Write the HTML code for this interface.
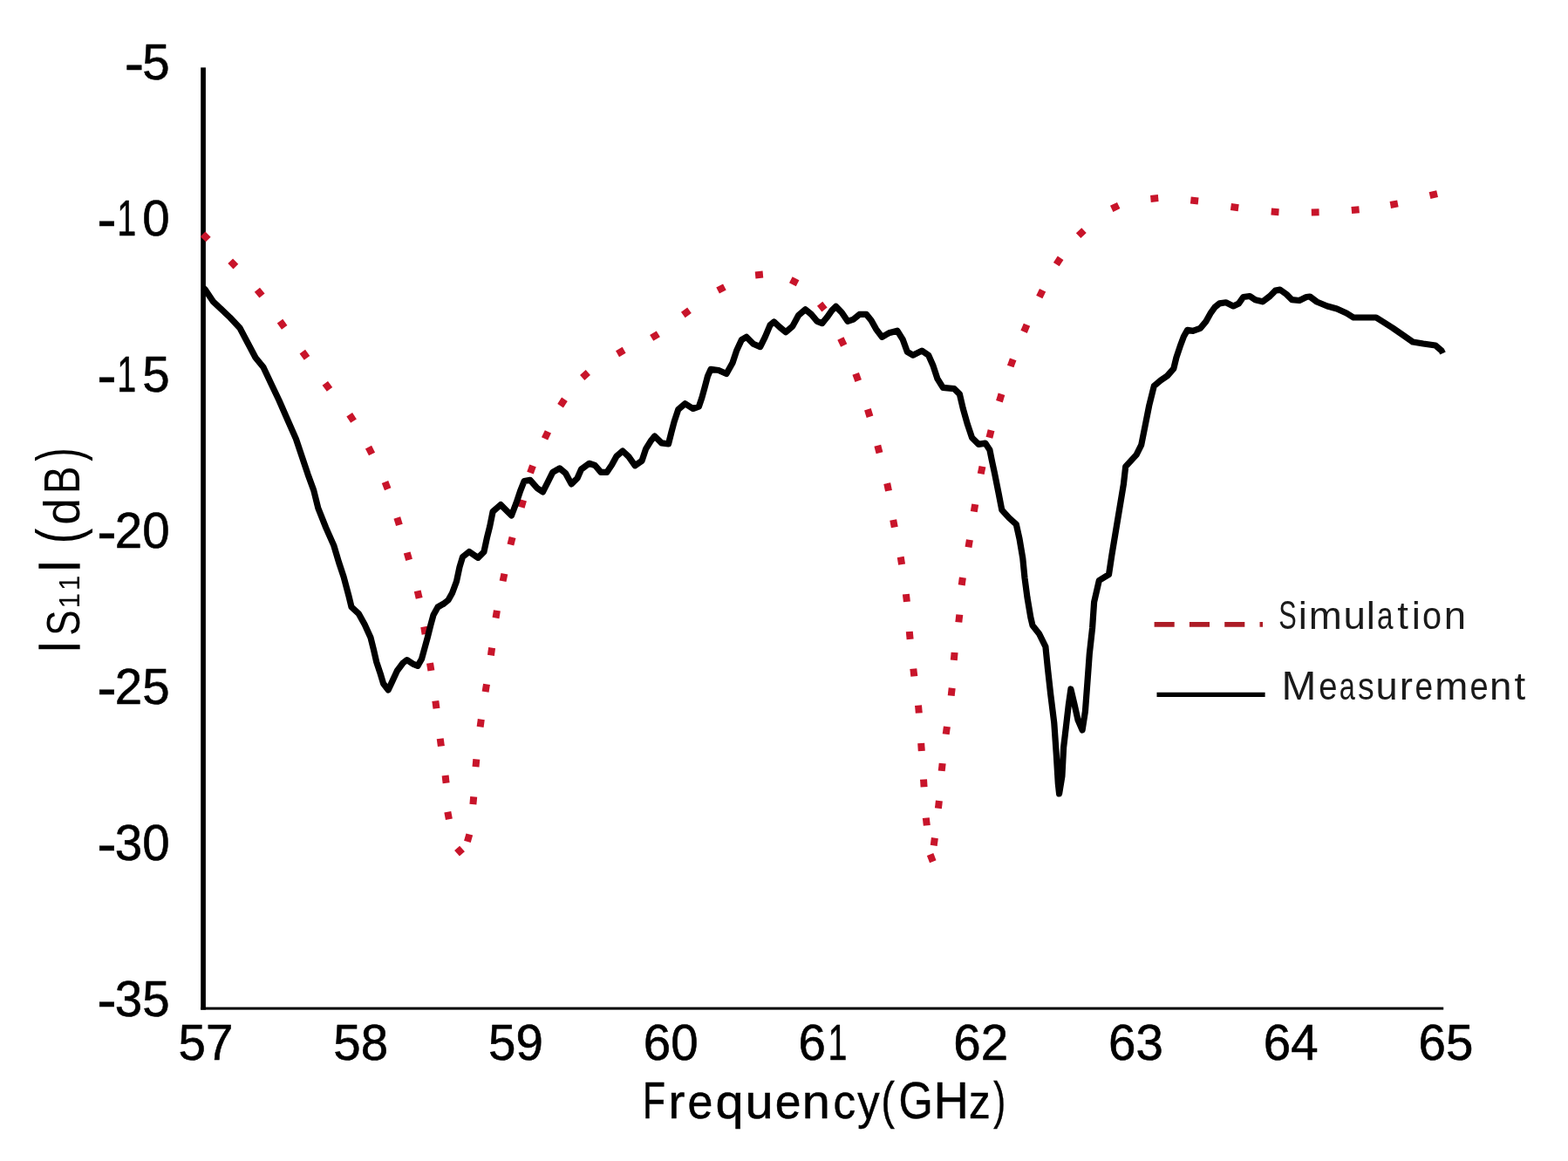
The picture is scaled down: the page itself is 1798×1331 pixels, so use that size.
<!DOCTYPE html>
<html><head><meta charset="utf-8"><title>S11 vs Frequency</title>
<style>
html,body{margin:0;padding:0;background:#fff;}
body{width:1798px;height:1331px;overflow:hidden;}
svg{display:block;}
</style></head>
<body>
<svg width="1798" height="1331" viewBox="0 0 1798 1331">
<rect width="1798" height="1331" fill="#fff"/>
<g fill="#000">
<rect x="230.2" y="77.4" width="5.7" height="1080.2"/>
<rect x="230.2" y="1154.6" width="1425" height="3"/>
</g>
<text font-family="'Liberation Sans', sans-serif" fill="#000" stroke="#000" stroke-width="0.6"><tspan x="142.69" y="94.80" font-size="64" textLength="22.38" lengthAdjust="spacingAndGlyphs">-</tspan><tspan x="163.28" y="91.00" font-size="56.5" textLength="31.42" lengthAdjust="spacingAndGlyphs">5</tspan></text>
<text font-family="'Liberation Sans', sans-serif" fill="#000" stroke="#000" stroke-width="0.6"><tspan x="111.27" y="273.82" font-size="64" textLength="22.38" lengthAdjust="spacingAndGlyphs">-</tspan><tspan x="134.35" y="270.02" font-size="56.5" textLength="21.93" lengthAdjust="spacingAndGlyphs">1</tspan><tspan x="163.28" y="270.02" font-size="56.5" textLength="31.42" lengthAdjust="spacingAndGlyphs">0</tspan></text>
<text font-family="'Liberation Sans', sans-serif" fill="#000" stroke="#000" stroke-width="0.6"><tspan x="111.27" y="452.84" font-size="64" textLength="22.38" lengthAdjust="spacingAndGlyphs">-</tspan><tspan x="134.35" y="449.04" font-size="56.5" textLength="21.93" lengthAdjust="spacingAndGlyphs">1</tspan><tspan x="163.28" y="449.04" font-size="56.5" textLength="31.42" lengthAdjust="spacingAndGlyphs">5</tspan></text>
<text font-family="'Liberation Sans', sans-serif" fill="#000" stroke="#000" stroke-width="0.6"><tspan x="111.27" y="631.86" font-size="64" textLength="22.38" lengthAdjust="spacingAndGlyphs">-</tspan><tspan x="131.85" y="628.06" font-size="56.5" textLength="31.42" lengthAdjust="spacingAndGlyphs">2</tspan><tspan x="163.28" y="628.06" font-size="56.5" textLength="31.42" lengthAdjust="spacingAndGlyphs">0</tspan></text>
<text font-family="'Liberation Sans', sans-serif" fill="#000" stroke="#000" stroke-width="0.6"><tspan x="111.27" y="810.88" font-size="64" textLength="22.38" lengthAdjust="spacingAndGlyphs">-</tspan><tspan x="131.85" y="807.08" font-size="56.5" textLength="31.42" lengthAdjust="spacingAndGlyphs">2</tspan><tspan x="163.28" y="807.08" font-size="56.5" textLength="31.42" lengthAdjust="spacingAndGlyphs">5</tspan></text>
<text font-family="'Liberation Sans', sans-serif" fill="#000" stroke="#000" stroke-width="0.6"><tspan x="111.27" y="989.90" font-size="64" textLength="22.38" lengthAdjust="spacingAndGlyphs">-</tspan><tspan x="131.85" y="986.10" font-size="56.5" textLength="31.42" lengthAdjust="spacingAndGlyphs">3</tspan><tspan x="163.28" y="986.10" font-size="56.5" textLength="31.42" lengthAdjust="spacingAndGlyphs">0</tspan></text>
<text font-family="'Liberation Sans', sans-serif" fill="#000" stroke="#000" stroke-width="0.6"><tspan x="111.27" y="1168.92" font-size="64" textLength="22.38" lengthAdjust="spacingAndGlyphs">-</tspan><tspan x="131.85" y="1165.12" font-size="56.5" textLength="31.42" lengthAdjust="spacingAndGlyphs">3</tspan><tspan x="163.28" y="1165.12" font-size="56.5" textLength="31.42" lengthAdjust="spacingAndGlyphs">5</tspan></text>
<text font-family="'Liberation Sans', sans-serif" fill="#000" stroke="#000" stroke-width="0.6"><tspan x="204.58" y="1215.00" font-size="56.5" textLength="31.42" lengthAdjust="spacingAndGlyphs">5</tspan><tspan x="236.00" y="1215.00" font-size="56.5" textLength="31.42" lengthAdjust="spacingAndGlyphs">7</tspan></text>
<text font-family="'Liberation Sans', sans-serif" fill="#000" stroke="#000" stroke-width="0.6"><tspan x="382.33" y="1215.00" font-size="56.5" textLength="31.42" lengthAdjust="spacingAndGlyphs">5</tspan><tspan x="413.75" y="1215.00" font-size="56.5" textLength="31.42" lengthAdjust="spacingAndGlyphs">8</tspan></text>
<text font-family="'Liberation Sans', sans-serif" fill="#000" stroke="#000" stroke-width="0.6"><tspan x="560.08" y="1215.00" font-size="56.5" textLength="31.42" lengthAdjust="spacingAndGlyphs">5</tspan><tspan x="591.50" y="1215.00" font-size="56.5" textLength="31.42" lengthAdjust="spacingAndGlyphs">9</tspan></text>
<text font-family="'Liberation Sans', sans-serif" fill="#000" stroke="#000" stroke-width="0.6"><tspan x="737.83" y="1215.00" font-size="56.5" textLength="31.42" lengthAdjust="spacingAndGlyphs">6</tspan><tspan x="769.25" y="1215.00" font-size="56.5" textLength="31.42" lengthAdjust="spacingAndGlyphs">0</tspan></text>
<text font-family="'Liberation Sans', sans-serif" fill="#000" stroke="#000" stroke-width="0.6"><tspan x="915.58" y="1215.00" font-size="56.5" textLength="31.42" lengthAdjust="spacingAndGlyphs">6</tspan><tspan x="949.50" y="1215.00" font-size="56.5" textLength="21.93" lengthAdjust="spacingAndGlyphs">1</tspan></text>
<text font-family="'Liberation Sans', sans-serif" fill="#000" stroke="#000" stroke-width="0.6"><tspan x="1093.33" y="1215.00" font-size="56.5" textLength="31.42" lengthAdjust="spacingAndGlyphs">6</tspan><tspan x="1124.75" y="1215.00" font-size="56.5" textLength="31.42" lengthAdjust="spacingAndGlyphs">2</tspan></text>
<text font-family="'Liberation Sans', sans-serif" fill="#000" stroke="#000" stroke-width="0.6"><tspan x="1271.08" y="1215.00" font-size="56.5" textLength="31.42" lengthAdjust="spacingAndGlyphs">6</tspan><tspan x="1302.50" y="1215.00" font-size="56.5" textLength="31.42" lengthAdjust="spacingAndGlyphs">3</tspan></text>
<text font-family="'Liberation Sans', sans-serif" fill="#000" stroke="#000" stroke-width="0.6"><tspan x="1448.83" y="1215.00" font-size="56.5" textLength="31.42" lengthAdjust="spacingAndGlyphs">6</tspan><tspan x="1480.25" y="1215.00" font-size="56.5" textLength="31.42" lengthAdjust="spacingAndGlyphs">4</tspan></text>
<text font-family="'Liberation Sans', sans-serif" fill="#000" stroke="#000" stroke-width="0.6"><tspan x="1626.58" y="1215.00" font-size="56.5" textLength="31.42" lengthAdjust="spacingAndGlyphs">6</tspan><tspan x="1658.00" y="1215.00" font-size="56.5" textLength="31.42" lengthAdjust="spacingAndGlyphs">5</tspan></text>
<text font-family="'Liberation Sans', sans-serif" fill="#000" stroke="#000" stroke-width="0.5"><tspan x="737.01" y="1281.60" font-size="58.3" textLength="25.99" lengthAdjust="spacingAndGlyphs">F</tspan><tspan x="766.15" y="1281.60" font-size="55" textLength="19.23" lengthAdjust="spacingAndGlyphs">r</tspan><tspan x="788.49" y="1281.60" font-size="55" textLength="28.92" lengthAdjust="spacingAndGlyphs">e</tspan><tspan x="820.53" y="1281.60" font-size="55" textLength="32.12" lengthAdjust="spacingAndGlyphs">q</tspan><tspan x="854.53" y="1281.60" font-size="55" textLength="32.12" lengthAdjust="spacingAndGlyphs">u</tspan><tspan x="888.73" y="1281.60" font-size="55" textLength="29.75" lengthAdjust="spacingAndGlyphs">e</tspan><tspan x="919.85" y="1281.60" font-size="55" textLength="32.12" lengthAdjust="spacingAndGlyphs">n</tspan><tspan x="955.52" y="1281.60" font-size="55" textLength="25.63" lengthAdjust="spacingAndGlyphs">c</tspan><tspan x="983.28" y="1281.60" font-size="55" textLength="25.32" lengthAdjust="spacingAndGlyphs">y</tspan><tspan x="1010.55" y="1281.60" font-size="58.5" textLength="15.32" lengthAdjust="spacingAndGlyphs">(</tspan><tspan x="1030.46" y="1281.60" font-size="58.3" textLength="39.32" lengthAdjust="spacingAndGlyphs">G</tspan><tspan x="1070.62" y="1281.60" font-size="58.3" textLength="40.34" lengthAdjust="spacingAndGlyphs">H</tspan><tspan x="1111.10" y="1281.60" font-size="55" textLength="24.65" lengthAdjust="spacingAndGlyphs">z</tspan><tspan x="1139.16" y="1281.60" font-size="58.5" textLength="13.82" lengthAdjust="spacingAndGlyphs">)</tspan></text>
<text font-family="'Liberation Sans', sans-serif" fill="#000" transform="translate(91.4,744.3) rotate(-90)"><tspan x="-3.54" y="-10.50" font-size="49.4" textLength="12.18" lengthAdjust="spacingAndGlyphs" stroke="#000" stroke-width="1.3">|</tspan><tspan x="15.51" y="0.00" font-size="53" textLength="29.20" lengthAdjust="spacingAndGlyphs">S</tspan><tspan x="46.88" y="0.00" font-size="33" textLength="17.67" lengthAdjust="spacingAndGlyphs">1</tspan><tspan x="67.23" y="0.00" font-size="33" textLength="17.28" lengthAdjust="spacingAndGlyphs">1</tspan><tspan x="88.83" y="-10.50" font-size="49.4" textLength="13.14" lengthAdjust="spacingAndGlyphs" stroke="#000" stroke-width="1.3">|</tspan><tspan x="105.00" y="0.00" font-size="58"> </tspan><tspan x="121.03" y="0.00" font-size="70" textLength="17.58" lengthAdjust="spacingAndGlyphs">(</tspan><tspan x="142.57" y="0.00" font-size="58" textLength="30.79" lengthAdjust="spacingAndGlyphs">d</tspan><tspan x="178.09" y="0.00" font-size="58" textLength="31.83" lengthAdjust="spacingAndGlyphs">B</tspan><tspan x="215.53" y="0.00" font-size="70" textLength="15.32" lengthAdjust="spacingAndGlyphs">)</tspan></text>
<g fill="none" stroke="#c8142a" stroke-width="8" stroke-linecap="butt">
<line x1="232.6" y1="268.3" x2="238.8" y2="274.5"/>
<line x1="264.2" y1="299.2" x2="270.4" y2="305.6"/>
<line x1="294.9" y1="332.2" x2="300.5" y2="339.0"/>
<line x1="321.0" y1="368.1" x2="326.2" y2="375.3"/>
<line x1="346.8" y1="403.2" x2="352.0" y2="410.4"/>
<line x1="372.8" y1="439.3" x2="378.0" y2="446.3"/>
<line x1="400.7" y1="475.2" x2="405.5" y2="482.6"/>
<line x1="422.5" y1="512.7" x2="426.5" y2="520.5"/>
<line x1="441.5" y1="552.5" x2="444.7" y2="560.7"/>
<line x1="455.3" y1="593.5" x2="457.9" y2="601.9"/>
<line x1="466.7" y1="633.5" x2="469.1" y2="641.9"/>
<line x1="478.7" y1="677.3" x2="480.7" y2="685.9"/>
<line x1="486.2" y1="718.5" x2="487.6" y2="727.1"/>
<line x1="493.0" y1="760.2" x2="494.4" y2="768.8"/>
<line x1="499.3" y1="803.5" x2="500.5" y2="812.3"/>
<line x1="504.7" y1="846.7" x2="505.9" y2="855.5"/>
<line x1="510.6" y1="889.0" x2="511.6" y2="897.8"/>
<line x1="513.3" y1="930.7" x2="514.9" y2="939.3"/>
<line x1="524.1" y1="972.3" x2="529.9" y2="978.9"/>
<line x1="535.9" y1="964.9" x2="538.3" y2="956.5"/>
<line x1="542.4" y1="922.1" x2="543.2" y2="913.3"/>
<line x1="545.5" y1="879.2" x2="546.3" y2="870.4"/>
<line x1="550.6" y1="833.4" x2="551.8" y2="824.6"/>
<line x1="556.6" y1="793.1" x2="558.0" y2="784.3"/>
<line x1="562.9" y1="751.4" x2="564.1" y2="742.6"/>
<line x1="568.5" y1="708.5" x2="569.9" y2="699.9"/>
<line x1="576.6" y1="666.3" x2="578.4" y2="657.7"/>
<line x1="585.4" y1="624.6" x2="587.6" y2="616.0"/>
<line x1="597.7" y1="581.7" x2="600.1" y2="573.3"/>
<line x1="608.0" y1="542.2" x2="611.0" y2="533.8"/>
<line x1="624.6" y1="502.9" x2="628.4" y2="494.9"/>
<line x1="642.6" y1="465.2" x2="647.4" y2="457.8"/>
<line x1="667.7" y1="432.9" x2="674.3" y2="427.1"/>
<line x1="708.0" y1="405.7" x2="715.6" y2="401.3"/>
<line x1="747.2" y1="387.4" x2="754.8" y2="382.8"/>
<line x1="783.3" y1="361.0" x2="790.5" y2="355.8"/>
<line x1="823.1" y1="333.0" x2="830.9" y2="329.0"/>
<line x1="866.1" y1="315.4" x2="874.9" y2="314.6"/>
<line x1="906.8" y1="320.7" x2="914.6" y2="324.7"/>
<line x1="940.1" y1="348.3" x2="945.5" y2="355.1"/>
<line x1="963.9" y1="388.1" x2="967.7" y2="395.9"/>
<line x1="981.2" y1="428.4" x2="984.2" y2="436.6"/>
<line x1="994.9" y1="469.3" x2="997.5" y2="477.7"/>
<line x1="1006.3" y1="510.7" x2="1008.5" y2="519.3"/>
<line x1="1017.2" y1="554.1" x2="1019.0" y2="562.7"/>
<line x1="1024.2" y1="595.9" x2="1025.8" y2="604.5"/>
<line x1="1032.7" y1="638.5" x2="1034.1" y2="647.1"/>
<line x1="1038.9" y1="681.1" x2="1039.9" y2="689.9"/>
<line x1="1042.8" y1="724.0" x2="1043.6" y2="732.8"/>
<line x1="1047.3" y1="766.6" x2="1048.3" y2="775.4"/>
<line x1="1053.0" y1="808.7" x2="1053.8" y2="817.5"/>
<line x1="1056.2" y1="852.1" x2="1056.8" y2="860.9"/>
<line x1="1059.0" y1="893.5" x2="1059.6" y2="902.3"/>
<line x1="1061.8" y1="937.6" x2="1062.8" y2="946.4"/>
<line x1="1066.6" y1="979.5" x2="1069.8" y2="987.7"/>
<line x1="1070.7" y1="969.4" x2="1071.9" y2="960.6"/>
<line x1="1075.9" y1="926.8" x2="1076.9" y2="918.0"/>
<line x1="1079.7" y1="883.9" x2="1080.7" y2="875.1"/>
<line x1="1084.7" y1="841.8" x2="1085.9" y2="833.0"/>
<line x1="1090.7" y1="797.6" x2="1091.7" y2="788.8"/>
<line x1="1093.8" y1="756.8" x2="1094.6" y2="748.0"/>
<line x1="1099.3" y1="713.4" x2="1100.3" y2="704.6"/>
<line x1="1102.7" y1="670.9" x2="1103.9" y2="662.1"/>
<line x1="1110.5" y1="627.4" x2="1111.9" y2="618.8"/>
<line x1="1116.8" y1="586.7" x2="1118.2" y2="578.1"/>
<line x1="1124.7" y1="543.3" x2="1126.5" y2="534.7"/>
<line x1="1134.4" y1="501.8" x2="1136.6" y2="493.2"/>
<line x1="1145.9" y1="460.2" x2="1148.5" y2="451.8"/>
<line x1="1158.7" y1="420.0" x2="1161.7" y2="411.8"/>
<line x1="1174.1" y1="380.4" x2="1177.5" y2="372.2"/>
<line x1="1191.8" y1="340.5" x2="1195.6" y2="332.7"/>
<line x1="1211.3" y1="303.1" x2="1216.1" y2="295.7"/>
<line x1="1236.6" y1="270.1" x2="1243.0" y2="264.1"/>
<line x1="1274.7" y1="239.3" x2="1282.7" y2="235.5"/>
<line x1="1319.4" y1="227.9" x2="1328.2" y2="227.1"/>
<line x1="1365.3" y1="229.5" x2="1374.1" y2="230.5"/>
<line x1="1411.4" y1="237.0" x2="1420.2" y2="238.2"/>
<line x1="1457.7" y1="242.6" x2="1466.5" y2="243.2"/>
<line x1="1503.8" y1="243.4" x2="1512.6" y2="243.2"/>
<line x1="1549.8" y1="241.0" x2="1558.6" y2="240.2"/>
<line x1="1594.3" y1="235.0" x2="1602.9" y2="233.4"/>
<line x1="1639.5" y1="224.2" x2="1648.1" y2="222.2"/>
</g>
<polyline points="233.0,330.0 235.6,332.4 244.6,345.9 263.8,364.0 275.0,376.0 284.0,393.0 293.0,410.0 302.0,421.0 310.0,438.0 320.0,459.0 330.4,482.8 339.4,503.1 346.2,523.4 353.0,543.7 359.7,562.0 364.8,582.5 373.8,605.1 382.8,625.4 388.5,644.5 394.1,661.4 400.0,683.5 403.0,695.8 411.4,703.7 418.2,716.1 424.9,730.7 428.3,744.2 431.7,758.9 436.2,772.4 439.6,783.7 445.2,791.0 449.7,781.4 455.4,769.0 462.1,760.0 466.6,756.6 473.4,761.1 479.0,763.4 483.5,755.5 486.9,743.1 490.3,730.7 493.7,717.2 497.0,705.0 502.0,696.0 509.0,692.0 514.0,688.0 518.5,680.0 523.5,666.5 527.0,650.0 530.5,638.5 538.0,632.5 548.2,639.4 554.9,632.7 558.3,616.9 561.7,603.4 565.1,586.5 574.1,578.6 586.5,591.0 592.1,576.3 596.6,562.8 601.1,551.5 607.9,550.4 615.8,559.4 622.5,563.9 628.2,552.7 633.8,541.4 641.7,536.9 648.5,542.5 655.2,554.9 662.0,548.2 666.5,538.0 675.5,531.3 682.3,533.5 689.0,541.4 695.8,541.4 701.5,533.0 707.0,523.0 714.0,517.0 721.0,523.7 728.2,533.8 736.1,528.2 740.6,514.6 746.2,505.6 750.7,500.0 758.6,507.9 766.5,509.0 769.9,495.5 773.2,483.1 777.7,469.6 785.6,462.8 794.6,468.5 801.4,466.2 804.8,456.1 808.2,443.7 811.5,431.3 815.0,423.4 824.0,424.5 833.0,428.5 840.0,416.0 844.6,402.1 850.3,389.7 855.9,386.3 863.8,394.2 871.7,397.6 877.3,386.3 883.0,372.8 887.5,368.9 894.2,375.1 901.0,380.7 908.9,373.9 915.6,361.5 923.5,354.8 930.3,360.4 937.0,368.3 942.7,370.6 948.3,363.8 953.9,355.9 958.5,351.4 965.2,358.2 972.0,368.3 978.7,366.1 985.5,360.4 993.4,360.4 999.0,367.2 1004.6,377.3 1011.4,386.3 1019.3,381.8 1028.9,379.2 1035.3,389.4 1040.4,403.4 1046.8,407.2 1057.0,402.1 1064.7,407.2 1069.8,418.7 1074.9,434.1 1081.3,444.3 1094.1,445.6 1100.4,451.9 1104.3,468.5 1109.4,486.4 1114.5,501.7 1122.2,509.4 1129.8,508.1 1134.9,515.8 1137.5,528.6 1140.5,542.5 1145.0,565.0 1148.8,584.6 1157.0,593.6 1165.3,601.1 1169.0,617.6 1172.8,640.1 1175.0,662.6 1178.0,685.2 1181.8,707.7 1184.0,717.0 1191.5,726.4 1198.9,741.3 1201.4,766.1 1204.7,795.9 1208.8,828.9 1211.3,865.3 1213.3,898.3 1214.6,910.0 1217.9,890.0 1219.6,857.0 1222.9,828.9 1225.4,807.4 1227.9,790.0 1232.0,807.4 1236.1,825.6 1241.1,837.0 1244.4,815.7 1246.9,782.6 1249.3,749.6 1252.6,719.8 1254.6,690.3 1260.3,665.5 1271.5,658.7 1274.9,636.2 1279.4,609.2 1283.9,582.2 1288.4,555.1 1290.7,534.9 1303.1,521.4 1308.7,510.1 1313.2,487.6 1317.7,465.0 1323.3,442.5 1331.0,436.0 1338.4,431.0 1345.8,422.6 1348.9,409.9 1353.1,397.3 1357.4,385.7 1361.6,378.4 1367.9,379.4 1376.3,376.3 1382.6,368.9 1387.9,359.4 1393.1,352.1 1398.4,347.9 1405.7,346.8 1414.2,351.0 1420.5,347.9 1425.7,340.5 1433.1,339.5 1439.4,343.7 1447.8,345.8 1456.2,339.5 1462.5,333.1 1467.8,332.1 1475.2,337.4 1481.5,343.7 1490.0,344.5 1498.0,340.5 1502.0,340.0 1510.0,346.0 1522.0,351.0 1533.0,354.0 1544.0,359.0 1552.0,364.0 1578.0,364.0 1586.0,369.0 1597.0,376.0 1610.0,385.0 1620.0,392.0 1632.0,394.0 1646.0,396.0 1653.0,402.0 1654.5,405.0" fill="none" stroke="#000" stroke-width="7.2" stroke-linejoin="round" stroke-linecap="butt"/>
<g>
<line x1="1323.6" y1="715.9" x2="1448" y2="715.9" stroke="#ad1c26" stroke-width="5.7" stroke-dasharray="23.1 17.2"/>
<line x1="1326.5" y1="796.4" x2="1450.6" y2="796.4" stroke="#000" stroke-width="5.4"/>
</g>
<text font-family="'Liberation Sans', sans-serif" fill="#1a1a1a"><tspan x="1466.30" y="721.40" font-size="45.6" textLength="20.51" lengthAdjust="spacingAndGlyphs">S</tspan><tspan x="1488.79" y="721.40" font-size="43.5" textLength="10.15" lengthAdjust="spacingAndGlyphs">i</tspan><tspan x="1500.72" y="721.40" font-size="43.5" textLength="38.05" lengthAdjust="spacingAndGlyphs">m</tspan><tspan x="1540.43" y="721.40" font-size="43.5" textLength="25.40" lengthAdjust="spacingAndGlyphs">u</tspan><tspan x="1566.87" y="721.40" font-size="43.5" textLength="10.15" lengthAdjust="spacingAndGlyphs">l</tspan><tspan x="1578.89" y="721.40" font-size="43.5" textLength="18.51" lengthAdjust="spacingAndGlyphs">a</tspan><tspan x="1602.33" y="721.40" font-size="43.5" textLength="12.69" lengthAdjust="spacingAndGlyphs">t</tspan><tspan x="1618.84" y="721.40" font-size="43.5" textLength="10.15" lengthAdjust="spacingAndGlyphs">i</tspan><tspan x="1631.04" y="721.40" font-size="43.5" textLength="22.03" lengthAdjust="spacingAndGlyphs">o</tspan><tspan x="1655.78" y="721.40" font-size="43.5" textLength="25.27" lengthAdjust="spacingAndGlyphs">n</tspan></text>
<text font-family="'Liberation Sans', sans-serif" fill="#1a1a1a"><tspan x="1469.46" y="801.90" font-size="45.6" textLength="39.88" lengthAdjust="spacingAndGlyphs">M</tspan><tspan x="1512.18" y="801.90" font-size="43.5" textLength="21.22" lengthAdjust="spacingAndGlyphs">e</tspan><tspan x="1535.72" y="801.90" font-size="43.5" textLength="18.08" lengthAdjust="spacingAndGlyphs">a</tspan><tspan x="1556.96" y="801.90" font-size="43.5" textLength="18.69" lengthAdjust="spacingAndGlyphs">s</tspan><tspan x="1577.56" y="801.90" font-size="43.5" textLength="25.14" lengthAdjust="spacingAndGlyphs">u</tspan><tspan x="1604.86" y="801.90" font-size="43.5" textLength="15.21" lengthAdjust="spacingAndGlyphs">r</tspan><tspan x="1622.42" y="801.90" font-size="43.5" textLength="20.62" lengthAdjust="spacingAndGlyphs">e</tspan><tspan x="1645.27" y="801.90" font-size="43.5" textLength="38.05" lengthAdjust="spacingAndGlyphs">m</tspan><tspan x="1685.59" y="801.90" font-size="43.5" textLength="21.10" lengthAdjust="spacingAndGlyphs">e</tspan><tspan x="1708.07" y="801.90" font-size="43.5" textLength="25.40" lengthAdjust="spacingAndGlyphs">n</tspan><tspan x="1736.53" y="801.90" font-size="43.5" textLength="12.69" lengthAdjust="spacingAndGlyphs">t</tspan></text>
</svg>
</body></html>
